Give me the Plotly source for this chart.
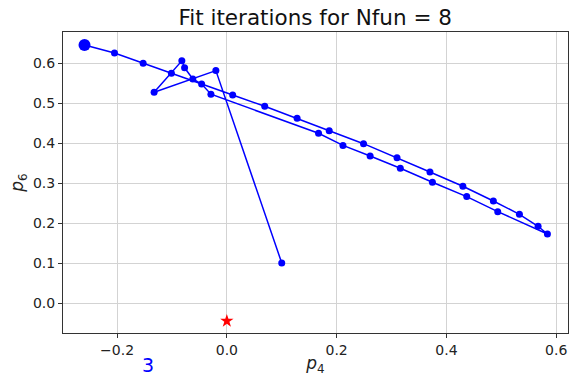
import plotly.graph_objects as go

# Fit path (p4, p6) per iteration
p4_path = [0.100, -0.020, -0.1325, -0.082, -0.077, -0.062, -0.046, -0.029,
           0.167, 0.2115, 0.261, 0.316, 0.3745, 0.437, 0.4935, 0.584,
           0.567, 0.533, 0.4855, 0.430, 0.370, 0.310, 0.249, 0.1865, 0.128, 0.069, 0.0106,
           -0.101, -0.1525, -0.2047, -0.2593]
p6_path = [0.100, 0.581, 0.527, 0.6055, 0.588, 0.560, 0.5475, 0.522,
           0.4243, 0.394, 0.3675, 0.337, 0.302, 0.266, 0.2283, 0.1725,
           0.1918, 0.2218, 0.255, 0.2918, 0.3275, 0.3633, 0.3983, 0.4308, 0.4618, 0.4918, 0.520,
           0.5743, 0.5993, 0.625, 0.645]
# true value (red star)
p4_true = [0.0]
p6_true = [-0.045]
title_text = "Fit iterations for Nfun = 8"
note_text = "3"
note_x = -0.143

FONT = "DejaVu Sans"
fig = go.Figure()
fig.add_trace(go.Scatter(x=p4_path, y=p6_path, mode="lines+markers",
                         line=dict(color="#0000ff", width=1.5),
                         marker=dict(color="#0000ff", size=7),
                         showlegend=False))
fig.add_trace(go.Scatter(x=[p4_path[-1]], y=[p6_path[-1]], mode="markers",
                         marker=dict(color="#0000ff", size=12),
                         showlegend=False))
fig.add_trace(go.Scatter(x=p4_true, y=p6_true, mode="markers",
                         marker=dict(color="#ff0000", size=10, symbol="star"),
                         showlegend=False))

fig.add_annotation(x=note_x, y=-0.105, xref="x", yref="paper", text=note_text,
                   showarrow=False, font=dict(family=FONT, size=19, color="#0000ff"),
                   xanchor="center", yanchor="middle")

axis_common = dict(showgrid=True, gridcolor="#d3d3d3", gridwidth=1,
                   showline=True, linecolor="#333333", linewidth=1, mirror=True,
                   ticks="outside", ticklen=4, tickcolor="#333333",
                   tickfont=dict(family=FONT, size=14, color="#222222"),
                   zeroline=False)
fig.update_xaxes(range=[-0.2985, 0.6215], tickvals=[-0.2, 0.0, 0.2, 0.4, 0.6],
                 ticktext=["\u22120.2", "0.0", "0.2", "0.4", "0.6"],
                 title=dict(text="<i>p</i><sub>4</sub>", font=dict(family=FONT, size=17, color="#222222"),
                            standoff=4),
                 **axis_common)
fig.update_yaxes(range=[-0.075, 0.6775], tickvals=[0.0, 0.1, 0.2, 0.3, 0.4, 0.5, 0.6],
                 ticktext=["0.0", "0.1", "0.2", "0.3", "0.4", "0.5", "0.6"],
                 title=dict(text="<i>p</i><sub>6</sub>", font=dict(family=FONT, size=17, color="#222222"),
                            standoff=4),
                 **axis_common)
fig.update_layout(width=570, height=376,
                  margin=dict(l=63, r=2, t=32, b=43),
                  plot_bgcolor="white", paper_bgcolor="white",
                  title=dict(text=title_text, x=0.553, xanchor="center", y=0.953, yanchor="middle",
                             font=dict(family=FONT, size=21.5, color="#111111")))
fig.write_html("out.html")
